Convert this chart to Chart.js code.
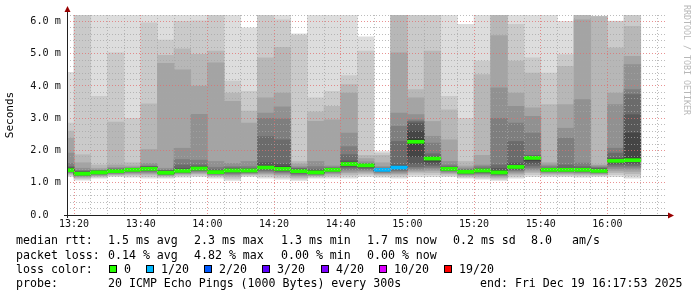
<!DOCTYPE html>
<html>
<head>
<meta charset="utf-8">
<script src="https://cdn.jsdelivr.net/npm/chart.js@4.4.0/dist/chart.umd.min.js"></script>
<style>
  html, body { margin: 0; padding: 0; background: #fff; }
  #wrap { position: relative; width: 697px; height: 297px; overflow: hidden; }
  #wrap canvas { position: absolute; left: 0; top: 0; }
  .t { position: absolute; font-family: 'DejaVu Sans Mono', monospace; font-size: 11.6px; line-height: 12px; color: #000; white-space: pre; }
  .box { position: absolute; width: 6px; height: 6px; border: 1px solid #000; }
  .side { position: absolute; left: 682px; top: 5px; font-family: 'DejaVu Sans Mono', monospace; font-size: 8.3px; color: #b8b8b8; writing-mode: vertical-rl; white-space: pre; }
</style>
</head>
<body>
<div id="wrap">
  <canvas id="chart" width="697" height="297"></canvas>
  <div class="side">RRDTOOL / TOBI OETIKER</div>
  <div id="legend"></div>
</div>
<script>
// 5 minute slots, labelled by their end time
const slotEnds = ['13:20','13:25','13:30','13:35','13:40','13:45','13:50','13:55',
  '14:00','14:05','14:10','14:15','14:20','14:25','14:30','14:35','14:40','14:45','14:50','14:55',
  '15:00','15:05','15:10','15:15','15:20','15:25','15:30','15:35','15:40','15:45','15:50','15:55',
  '16:00','16:05','16:10'];
const viewStart = '13:17:53';
const viewEnd = '16:17:53';

// sorted ping times (ms), p01 = fastest ... p20 = slowest
const p01 = [1.19,1.08,1.14,1.19,1.17,1.14,1.14,1.17,1.19,1.14,1.07,1.19,1.14,1.11,1.07,1.14,1.14,1.14,1.19,1.17,1.14,1.19,1.19,1.19,1.14,1.11,1.07,1.14,1.19,1.19,1.19,1.17,1.19,1.19,1.14];
const p02 = [1.23,1.12,1.17,1.22,1.21,1.19,1.17,1.21,1.23,1.18,1.12,1.22,1.19,1.16,1.12,1.17,1.19,1.20,1.24,1.21,1.19,1.26,1.25,1.23,1.17,1.15,1.11,1.19,1.25,1.23,1.23,1.21,1.22,1.25,1.21];
const p03 = [1.26,1.15,1.20,1.24,1.25,1.24,1.20,1.24,1.27,1.21,1.17,1.25,1.24,1.21,1.16,1.20,1.23,1.26,1.29,1.25,1.24,1.32,1.31,1.27,1.20,1.19,1.15,1.24,1.31,1.26,1.26,1.25,1.25,1.31,1.28];
const p04 = [1.29,1.18,1.22,1.26,1.28,1.28,1.22,1.27,1.30,1.23,1.21,1.27,1.28,1.25,1.20,1.22,1.27,1.31,1.33,1.28,1.28,1.36,1.37,1.30,1.23,1.23,1.18,1.29,1.36,1.29,1.29,1.28,1.27,1.37,1.35];
const p05 = [1.31,1.20,1.24,1.28,1.31,1.31,1.24,1.29,1.33,1.25,1.25,1.29,1.32,1.29,1.23,1.24,1.30,1.36,1.37,1.31,1.32,1.40,1.42,1.33,1.25,1.26,1.21,1.33,1.41,1.32,1.32,1.31,1.29,1.43,1.42];
const p06 = [1.33,1.22,1.26,1.30,1.33,1.34,1.26,1.31,1.36,1.27,1.28,1.31,1.36,1.32,1.26,1.26,1.33,1.41,1.41,1.33,1.36,1.45,1.47,1.36,1.27,1.29,1.24,1.37,1.46,1.34,1.34,1.33,1.31,1.49,1.48];
const p07 = [1.34,1.24,1.28,1.32,1.35,1.37,1.27,1.33,1.38,1.29,1.31,1.33,1.39,1.35,1.29,1.28,1.35,1.46,1.44,1.35,1.39,1.50,1.52,1.38,1.29,1.31,1.26,1.40,1.52,1.36,1.36,1.35,1.33,1.55,1.54];
const p08 = [1.36,1.25,1.29,1.33,1.37,1.39,1.28,1.34,1.40,1.30,1.34,1.35,1.42,1.38,1.31,1.29,1.37,1.50,1.47,1.37,1.42,1.60,1.58,1.40,1.31,1.33,1.28,1.43,1.60,1.37,1.37,1.37,1.34,1.60,1.60];
const p09 = [1.37,1.26,1.30,1.34,1.38,1.41,1.29,1.35,1.42,1.31,1.36,1.36,1.44,1.40,1.33,1.30,1.38,1.54,1.50,1.38,1.44,1.81,1.65,1.41,1.32,1.35,1.30,1.46,1.68,1.38,1.38,1.38,1.35,1.64,1.65];
const p10 = [1.38,1.27,1.31,1.35,1.39,1.42,1.30,1.36,1.43,1.32,1.37,1.37,1.46,1.42,1.35,1.31,1.39,1.57,1.53,1.39,1.46,2.20,1.72,1.42,1.33,1.37,1.31,1.48,1.75,1.39,1.39,1.39,1.36,1.67,1.68];
const p11 = [1.41,1.30,1.34,1.38,1.41,1.45,1.33,1.39,1.46,1.34,1.40,1.39,1.50,1.46,1.38,1.34,1.41,1.60,1.55,1.41,1.48,2.35,1.76,1.44,1.36,1.39,1.34,1.50,1.79,1.41,1.41,1.41,1.39,1.70,1.76];
const p12 = [1.44,1.32,1.35,1.39,1.42,1.47,1.35,1.41,1.48,1.36,1.41,1.40,1.52,1.50,1.40,1.36,1.42,1.62,1.56,1.42,1.50,2.60,1.78,1.45,1.37,1.40,1.38,1.53,1.80,1.42,1.43,1.42,1.41,1.72,2.54];
const p13 = [1.47,1.34,1.36,1.40,1.43,1.49,1.37,1.45,1.50,1.38,1.43,1.42,1.62,1.58,1.42,1.38,1.43,1.68,1.57,1.43,1.55,2.85,1.82,1.47,1.38,1.42,1.45,1.61,1.82,1.43,1.45,1.44,1.43,1.76,3.11];
const p14 = [1.50,1.36,1.37,1.42,1.44,1.50,1.38,1.55,1.55,1.42,1.46,1.45,2.43,2.33,1.44,1.42,1.45,1.87,1.58,1.44,2.28,2.90,1.90,1.50,1.40,1.45,1.55,2.28,1.85,1.45,1.55,1.50,1.45,1.92,3.73];
const p15 = [1.60,1.38,1.38,1.44,1.45,1.52,1.40,1.72,1.70,1.48,1.50,1.50,3.00,2.98,1.46,1.50,1.48,2.12,1.60,1.46,2.75,2.95,2.23,1.55,1.42,1.50,3.00,2.85,2.54,1.50,2.38,1.61,1.48,2.07,3.89];
const p16 = [1.92,1.45,1.40,1.47,1.47,1.60,1.45,2.07,3.12,1.66,1.60,1.66,3.16,3.35,1.50,1.66,1.52,2.54,1.65,1.50,3.16,3.11,2.44,1.66,1.46,1.55,3.94,3.37,3.06,1.55,2.69,3.58,1.52,3.42,4.66];
const p17 = [2.38,1.62,1.45,1.55,1.52,2.03,4.70,4.50,4.00,4.72,3.52,2.85,3.63,3.78,1.58,2.90,2.95,3.78,1.75,1.62,5.03,3.63,2.90,2.33,1.52,1.85,5.56,3.78,3.32,1.62,3.42,6.05,1.55,3.78,4.92];
const p18 = [2.60,1.87,1.55,2.88,1.62,3.45,4.95,5.15,4.98,5.08,3.78,3.22,4.87,5.20,1.66,3.20,3.37,4.04,1.85,1.85,6.20,3.89,5.08,3.26,1.66,4.35,6.20,4.77,4.40,3.42,4.61,6.20,6.15,5.18,5.85];
const p19 = [2.85,6.20,3.68,5.03,3.00,5.96,5.42,6.00,6.02,6.20,4.15,3.83,6.20,6.05,5.58,3.63,3.83,4.32,5.08,1.92,6.20,6.20,6.20,3.68,3.00,4.77,6.20,5.91,4.87,4.40,4.97,6.20,6.16,6.00,6.20];
const p20 = [4.42,6.20,6.20,6.20,6.20,6.20,6.20,6.20,6.20,6.20,6.20,5.80,6.20,6.20,5.62,6.20,6.20,6.20,5.52,1.97,6.20,6.20,6.20,6.20,5.91,6.20,6.20,6.20,6.20,6.20,6.00,6.20,6.17,6.01,6.20];

// median rtt (ms) and lost pings (of 20) per slot
const median = [1.39,1.28,1.32,1.36,1.40,1.43,1.31,1.37,1.44,1.33,1.38,1.38,1.47,1.43,1.36,1.32,1.40,1.58,1.54,1.40,1.47,2.27,1.75,1.43,1.34,1.38,1.32,1.49,1.77,1.40,1.40,1.40,1.37,1.68,1.70];
const lost = [0,0,0,0,0,0,0,0,0,0,0,0,0,0,0,0,0,0,0,1,1,0,0,0,0,0,0,0,0,0,0,0,0,0,0];

// loss colour legend
const lossSteps = [0, 1, 2, 3, 4, 10, 19];
const lossLabels = ['0', '1/20', '2/20', '3/20', '4/20', '10/20', '19/20'];
const lossColors = ['#26ff00', '#00b8ff', '#0059ff', '#5e00ff', '#7e00ff', '#dd00ff', '#ff0000'];

// axis labels
const yTickValues = [0, 1, 2, 3, 4, 5, 6];
const yTickLabels = ['0.0  ', '1.0 m', '2.0 m', '3.0 m', '4.0 m', '5.0 m', '6.0 m'];
const xTickTimes = ['13:20', '13:40', '14:00', '14:20', '14:40', '15:00', '15:20', '15:40', '16:00'];

const toMin = s => {
  const p = s.split(':').map(Number);
  return p[0] * 60 + p[1] + (p[2] || 0) / 60;
};

const pings = [p01, p02, p03, p04, p05, p06, p07, p08, p09, p10, p11, p12, p13, p14, p15, p16, p17, p18, p19, p20];
const slotX = slotEnds.map(t => toMin(t) - 2.5);

function lossColor(n) {
  let c = lossColors[0];
  lossSteps.forEach((s, i) => { if (n >= s) c = lossColors[i]; });
  return c;
}

const barBase = {
  type: 'bar',
  grouped: false,
  barPercentage: 1,
  categoryPercentage: 1,
  borderWidth: 0,
  clip: 0
};

const datasets = [];
// smoke: outer pair of pings is lightest, inner pair darkest (higher order = drawn further back)
for (let k = 0; k < 10; k++) {
  const lo = pings[k];
  const hi = pings[19 - k];
  const g = 221 - 19 * k;
  datasets.push(Object.assign({}, barBase, {
    order: 11 - k,
    data: slotX.map((x, i) => ({ x: x, y: [lo[i], hi[i]] })),
    backgroundColor: 'rgb(' + g + ',' + g + ',' + g + ')'
  }));
}
datasets.push(Object.assign({}, barBase, {
  order: 0,
  data: slotX.map((x, i) => ({ x: x, y: [median[i] - 0.048, median[i] + 0.048] })),
  backgroundColor: lost.map(lossColor)
}));

const majorGrid = 'rgba(225,110,110,0.75)';
const minorGrid = 'rgba(165,165,165,0.75)';

const axesPlugin = {
  id: 'rrdAxes',
  afterDraw(chart) {
    const { ctx, chartArea: a } = chart;
    ctx.save();
    ctx.strokeStyle = '#202020';
    ctx.lineWidth = 1;
    ctx.beginPath();
    ctx.moveTo(a.left + 0.5, a.bottom + 3);
    ctx.lineTo(a.left + 0.5, a.top - 4);
    ctx.moveTo(a.left - 3, a.bottom + 0.5);
    ctx.lineTo(a.right + 3, a.bottom + 0.5);
    ctx.stroke();
    ctx.fillStyle = '#990000';
    ctx.beginPath();
    ctx.moveTo(a.left + 0.5, a.top - 9);
    ctx.lineTo(a.left - 2.5, a.top - 3);
    ctx.lineTo(a.left + 3.5, a.top - 3);
    ctx.closePath();
    ctx.fill();
    ctx.beginPath();
    ctx.moveTo(a.right + 7, a.bottom + 0.5);
    ctx.lineTo(a.right + 1, a.bottom - 2.5);
    ctx.lineTo(a.right + 1, a.bottom + 3.5);
    ctx.closePath();
    ctx.fill();
    ctx.restore();
  }
};

Chart.defaults.font.family = "'DejaVu Sans Mono', monospace";
Chart.defaults.color = '#000';

new Chart(document.getElementById('chart'), {
  type: 'bar',
  data: { datasets: datasets },
  options: {
    responsive: false,
    animation: false,
    events: [],
    layout: { padding: { left: 0, top: 15, right: 30, bottom: 62 } },
    plugins: { legend: { display: false }, tooltip: { enabled: false } },
    scales: {
      x: {
        type: 'linear',
        offset: false,
        min: toMin(viewStart),
        max: toMin(viewEnd),
        afterFit: s => { s.height = 20; },
        afterBuildTicks: s => {
          const t = [];
          for (let m = 800; m <= 975; m += 5) t.push({ value: m });
          s.ticks = t;
        },
        grid: { z: 1, offset: false, color: c => (c.tick && c.tick.value % 20 === 0) ? majorGrid : minorGrid, drawTicks: false },
        border: { display: false, dash: [1, 2] },
        ticks: {
          autoSkip: false,
          maxRotation: 0,
          padding: 3,
          font: { size: 10 },
          color: '#111',
          callback: v => {
            const i = xTickTimes.findIndex(t => Math.abs(toMin(t) - v) < 1e-6);
            return i >= 0 ? xTickTimes[i] : '';
          }
        }
      },
      y: {
        type: 'linear',
        min: 0,
        max: 6.2,
        afterFit: s => { s.width = 67; },
        afterBuildTicks: s => {
          const t = [];
          for (let i = 0; i <= 31; i++) t.push({ value: Math.round(i * 2) / 10 });
          s.ticks = t;
        },
        grid: {
          z: 1,
          color: c => (c.tick && Math.abs(c.tick.value - Math.round(c.tick.value)) < 1e-6) ? majorGrid : minorGrid,
          drawTicks: false
        },
        border: { display: false, dash: [1, 2] },
        title: { display: true, text: 'Seconds', font: { size: 11 }, color: '#000', padding: { top: 4, bottom: 0 } },
        ticks: {
          autoSkip: false,
          padding: 6,
          font: { size: 10.2 },
          color: '#111',
          callback: v => {
            const i = yTickValues.findIndex(t => Math.abs(t - v) < 1e-6);
            return i >= 0 ? yTickLabels[i] : '';
          }
        }
      }
    }
  },
  plugins: [axesPlugin]
});

// text legend below the graph
const legend = document.getElementById('legend');
function text(x, baseline, s) {
  const d = document.createElement('div');
  d.className = 't';
  d.style.left = x + 'px';
  d.style.top = (baseline - 10) + 'px';
  d.textContent = s;
  legend.appendChild(d);
}
const rows = [244.3, 259, 272.7, 286.7];
text(16, rows[0], 'median rtt:');
text(108, rows[0], '1.5 ms avg');
text(194, rows[0], '2.3 ms max');
text(281, rows[0], '1.3 ms min');
text(367, rows[0], '1.7 ms now');
text(453, rows[0], '0.2 ms sd');
text(531, rows[0], '8.0');
text(572, rows[0], 'am/s');
text(16, rows[1], 'packet loss:');
text(108, rows[1], '0.14 % avg');
text(194, rows[1], '4.82 % max');
text(281, rows[1], '0.00 % min');
text(367, rows[1], '0.00 % now');
text(16, rows[2], 'loss color:');
const boxX = [109, 146, 204, 262, 321, 379, 444];
lossLabels.forEach((lab, i) => {
  const b = document.createElement('div');
  b.className = 'box';
  b.style.left = boxX[i] + 'px';
  b.style.top = (rows[2] - 8) + 'px';
  b.style.background = lossColors[i];
  legend.appendChild(b);
  text(boxX[i] + 15, rows[2], lab);
});
text(16, rows[3], 'probe:');
text(108, rows[3], '20 ICMP Echo Pings (1000 Bytes) every 300s');
text(480, rows[3], 'end: Fri Dec 19 16:17:53 2025');
</script>
</body>
</html>
